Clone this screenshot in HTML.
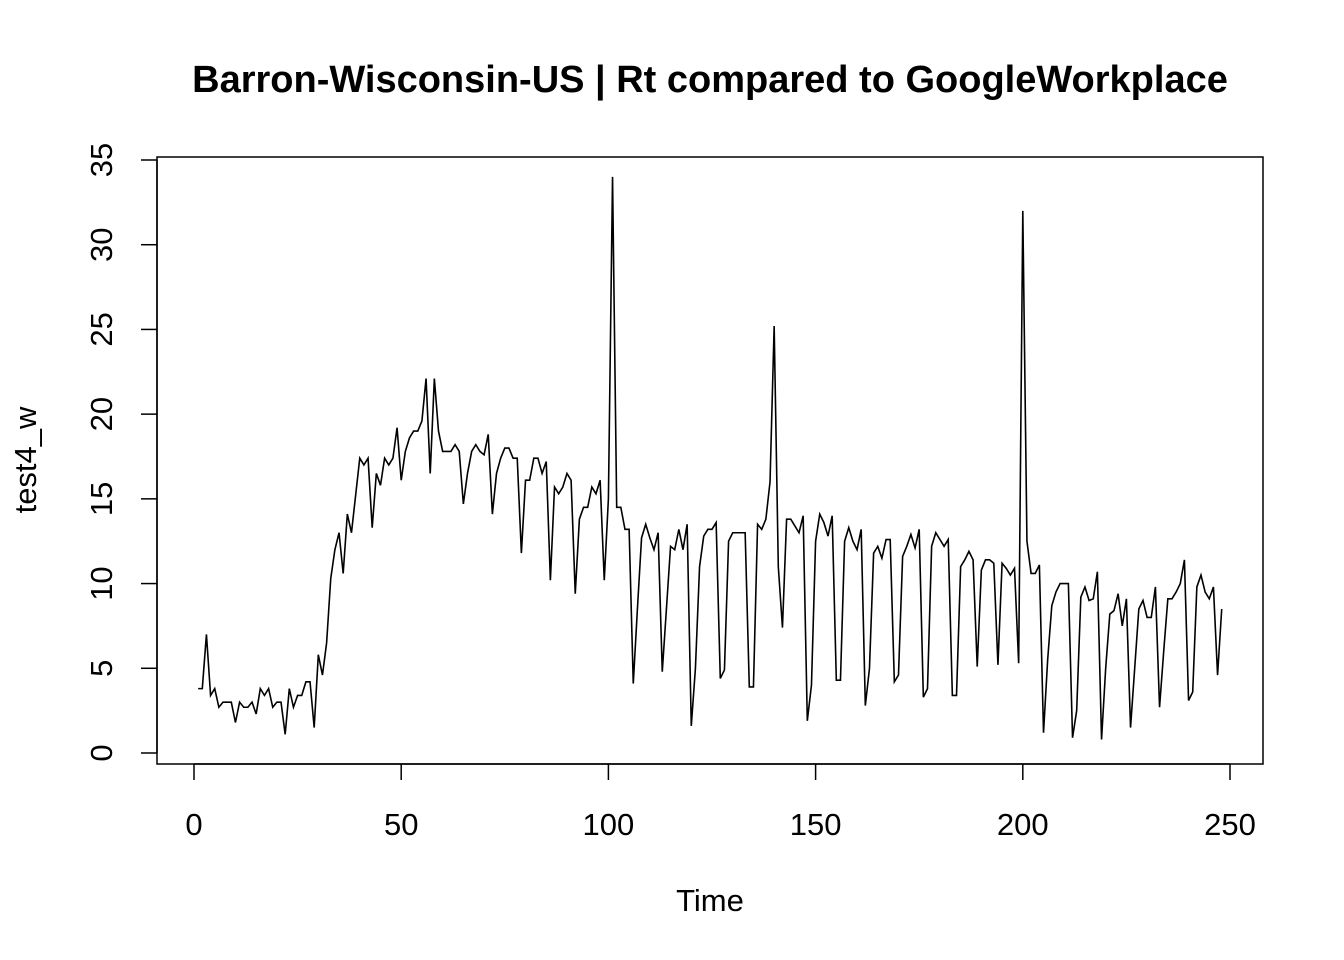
<!DOCTYPE html>
<html><head><meta charset="utf-8"><style>
body{margin:0;background:#fff;}
svg{display:block;font-family:"Liberation Sans",Arial,sans-serif;}
</style></head><body>
<svg id="chart" width="1344" height="960">
<text x="710" y="92" text-anchor="middle" font-size="38" font-weight="bold">Barron-Wisconsin-US | Rt compared to GoogleWorkplace</text>
<rect x="157" y="157" width="1106" height="607" fill="none" stroke="#000" stroke-width="1.5"/>
<text x="710" y="911" text-anchor="middle" font-size="31">Time</text>
<text transform="translate(36,460) rotate(-90)" text-anchor="middle" font-size="31">test4_w</text>
<g id="axes"></g>
<path id="series" fill="none" stroke="#000" stroke-width="1.6"/>
</svg>
<script>
const startTime = 1;
const values = [3.8,3.8,7.0,3.4,3.8,2.7,3.0,3.0,3.0,1.8,3.0,2.7,2.7,3.0,2.3,3.8,3.4,3.8,2.7,3.0,3.0,1.1,3.8,2.7,3.4,3.4,4.2,4.2,1.5,5.8,4.6,6.5,10.3,12.0,13.0,10.6,14.1,13.0,15.2,17.4,17.0,17.4,13.3,16.5,15.8,17.4,17.0,17.4,19.2,16.1,17.8,18.6,19.0,19.0,19.6,22.1,16.5,22.1,19.0,17.8,17.8,17.8,18.2,17.8,14.7,16.5,17.8,18.2,17.8,17.6,18.8,14.1,16.5,17.4,18.0,18.0,17.4,17.4,11.8,16.1,16.1,17.4,17.4,16.5,17.2,10.2,15.7,15.3,15.7,16.5,16.1,9.4,13.8,14.5,14.5,15.7,15.3,16.1,10.2,15.0,34.0,14.5,14.5,13.2,13.2,4.1,8.5,12.7,13.5,12.7,12.0,13.0,4.8,8.5,12.2,12.0,13.2,12.0,13.5,1.6,5.0,11.0,12.8,13.2,13.2,13.6,4.4,4.9,12.5,13.0,13.0,13.0,13.0,3.9,3.9,13.5,13.2,13.8,16.0,25.2,11.0,7.4,13.8,13.8,13.4,13.0,14.0,1.9,4.0,12.5,14.1,13.6,12.8,14.0,4.3,4.3,12.5,13.3,12.5,12.0,13.2,2.8,5.0,11.8,12.2,11.5,12.6,12.6,4.2,4.6,11.6,12.2,12.9,12.1,13.2,3.3,3.8,12.2,13.0,12.6,12.2,12.6,3.4,3.4,11.0,11.4,11.9,11.4,5.1,10.8,11.4,11.4,11.2,5.2,11.2,10.9,10.5,10.9,5.3,32.0,12.5,10.6,10.6,11.1,1.2,5.5,8.7,9.5,10.0,10.0,10.0,0.9,2.5,9.2,9.8,9.0,9.1,10.7,0.8,5.0,8.2,8.4,9.4,7.5,9.1,1.5,5.0,8.5,9.0,8.0,8.0,9.8,2.7,6.0,9.1,9.1,9.5,10.0,11.4,3.1,3.6,9.8,10.5,9.5,9.1,9.8,4.6,8.5];
const xTicks = [0,50,100,150,200,250];
const yTicks = [0,5,10,15,20,25,30,35];
const NS = "http://www.w3.org/2000/svg";
function xs(t){return 194 + t*(1230-194)/250;}
function ys(v){return 753 - v*(753-160)/35;}
const axes = document.getElementById('axes');
function line(x1,y1,x2,y2,name){const l=document.createElementNS(NS,'line');
l.setAttribute('x1',x1);l.setAttribute('y1',y1);l.setAttribute('x2',x2);l.setAttribute('y2',y2);
l.setAttribute('stroke','#000');l.setAttribute('stroke-width','1.5');


axes.appendChild(l);}
line(xs(xTicks[0]),764,xs(xTicks[xTicks.length-1]),764,'x-axis-line');
xTicks.forEach(t=>{line(xs(t),764,xs(t),780,'x-tick');
const tx=document.createElementNS(NS,'text');tx.setAttribute('x',xs(t));tx.setAttribute('y',835);
tx.setAttribute('text-anchor','middle');tx.setAttribute('font-size','31');tx.textContent=t;


axes.appendChild(tx);});
line(157,ys(yTicks[0]),157,ys(yTicks[yTicks.length-1]),'y-axis-line');
yTicks.forEach(v=>{line(141,ys(v),157,ys(v),'y-tick');
const tx=document.createElementNS(NS,'text');
tx.setAttribute('transform','translate(112,'+ys(v)+') rotate(-90)');
tx.setAttribute('text-anchor','middle');tx.setAttribute('font-size','31');tx.textContent=v;


axes.appendChild(tx);});
let d='';
values.forEach((v,i)=>{d+=(i?'L':'M')+xs(startTime+i).toFixed(2)+' '+ys(v).toFixed(2)+' ';});
document.getElementById('series').setAttribute('d',d);
</script>
</body></html>
